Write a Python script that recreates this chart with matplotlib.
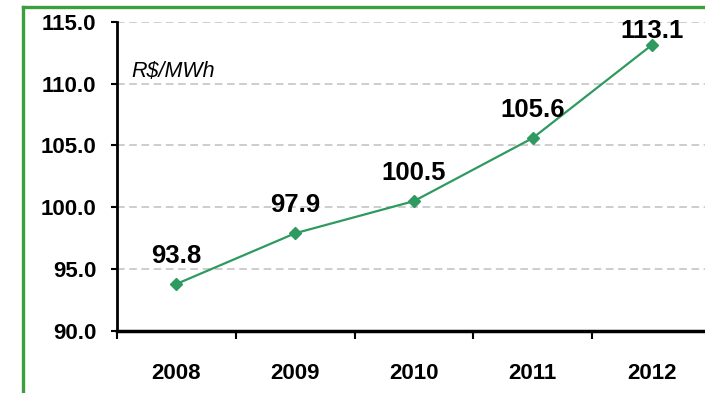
import numpy as np
import matplotlib.pyplot as plt
from matplotlib.lines import Line2D

plt.rcParams['font.family'] = ['Liberation Sans', 'DejaVu Sans']

years = ['2008', '2009', '2010', '2011', '2012']
prices = [93.8, 97.9, 100.5, 105.6, 113.1]
yticks = [90.0, 95.0, 100.0, 105.0, 110.0, 115.0]

W, H = 705, 393
fig = plt.figure(figsize=(W / 100, H / 100), dpi=100)

# green frame on the left and top
fx = 23 / W
fy = 1 - 7 / H
green = '#3c9f3c'
fig.add_artist(Line2D([fx, fx], [0, fy], color=green, lw=2.4, transform=fig.transFigure))
fig.add_artist(Line2D([fx, 1], [fy, fy], color=green, lw=2.4, transform=fig.transFigure))

# axes run slightly past the right edge of the figure
left, right = 117 / W, 711 / W
bottom, top = 1 - 331 / H, 1 - 21.7 / H
ax = fig.add_axes([left, bottom, right - left, top - bottom])

x = np.arange(len(years))
ax.plot(x, prices, color='#2e9a60', lw=1.6, marker='D', ms=6, zorder=3, clip_on=False)

for xi, v in zip(x, prices):
    ax.text(xi, min(v + 1.7, 113.7), f'{v:.1f}', ha='center', va='baseline',
            fontsize=18.5, fontweight='bold', color='black')

ax.set_xlim(-0.5, len(years) - 0.5)
ax.set_ylim(yticks[0], yticks[-1])
ax.set_yticks(yticks)
ax.set_yticklabels([f'{t:.1f}' for t in yticks], fontsize=16, fontweight='bold')
ax.set_xticks(x)
ax.set_xticklabels(years, fontsize=16, fontweight='bold')
ax.set_xticks(np.arange(len(years) + 1) - 0.5, minor=True)

ax.tick_params(axis='x', which='major', length=0, pad=23)
ax.tick_params(axis='x', which='minor', direction='out', length=6, width=1.5)
ax.tick_params(axis='y', direction='out', length=4, width=1.5, pad=11)

for t in yticks[1:]:
    ax.axhline(t, color='#c0c0c0', lw=1.1, ls=(0, (5, 3)), zorder=1)

for s in ['top', 'right']:
    ax.spines[s].set_visible(False)
ax.spines['left'].set_linewidth(2)
ax.spines['bottom'].set_linewidth(2.5)

ax.text(131 / W, 1 - 77 / H, 'R$/MWh', transform=fig.transFigure,
        fontsize=15.5, fontstyle='italic', va='baseline', ha='left')

fig.savefig('out.png', dpi=100)
